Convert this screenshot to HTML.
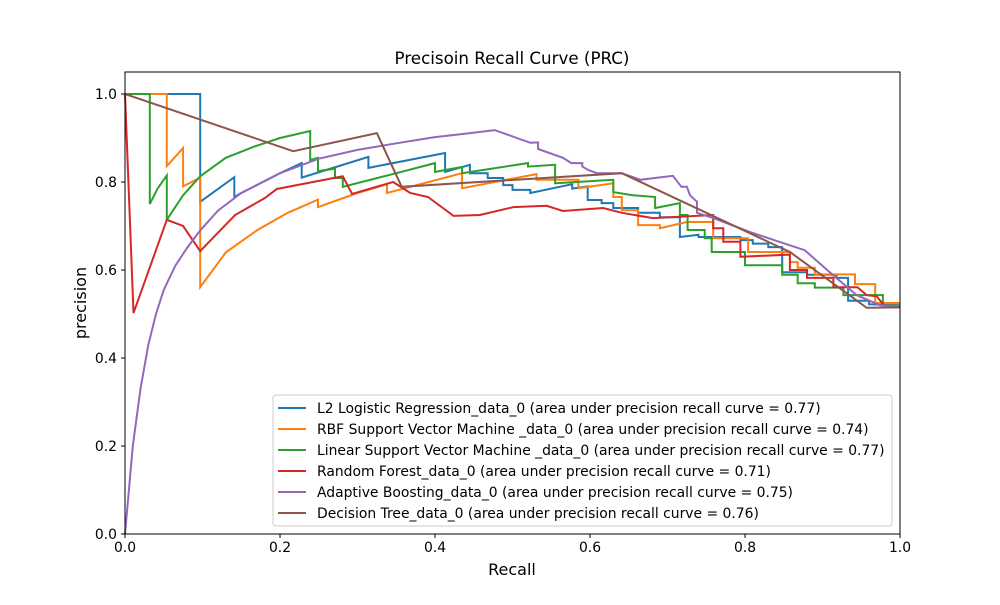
<!DOCTYPE html>
<html><head><meta charset="utf-8"><style>
body{margin:0;background:#fff}
svg text{font-family:"DejaVu Sans","Liberation Sans",sans-serif}
</style></head><body>
<svg id="chart" width="1000" height="600" xmlns="http://www.w3.org/2000/svg">
<rect width="1000" height="600" fill="#fff"/>
<g id="plot"></g>
</svg>
<script>
const xTicks=[0,0.2,0.4,0.6,0.8,1.0];
const yTicks=[0,0.2,0.4,0.6,0.8,1.0];
const seriesNames=["L2 Logistic Regression_data_0 (area under precision recall curve = 0.77)","RBF Support Vector Machine _data_0 (area under precision recall curve = 0.74)","Linear Support Vector Machine _data_0 (area under precision recall curve = 0.77)","Random Forest_data_0 (area under precision recall curve = 0.71)","Adaptive Boosting_data_0 (area under precision recall curve = 0.75)","Decision Tree_data_0 (area under precision recall curve = 0.76)"];
const colors=["#1f77b4","#ff7f0e","#2ca02c","#d62728","#9467bd","#8c564b"];
const purple=[[0,0],[0.005,0.1],[0.01,0.2],[0.02,0.33],[0.03,0.43],[0.04,0.5],[0.05,0.555],[0.065,0.61],[0.08,0.65],[0.097,0.69],[0.12,0.735],[0.15,0.775],[0.2,0.82],[0.25,0.853],[0.3,0.873],[0.35,0.888],[0.4,0.902],[0.44,0.91],[0.477,0.918],[0.523,0.889],[0.533,0.89],[0.533,0.875],[0.565,0.855],[0.576,0.843],[0.59,0.843],[0.59,0.835],[0.598,0.827],[0.609,0.82],[0.641,0.82],[0.665,0.805],[0.707,0.814],[0.718,0.789],[0.725,0.789],[0.729,0.77],[0.738,0.755],[0.738,0.73],[0.759,0.718],[0.81,0.684],[0.877,0.645],[0.913,0.589],[0.944,0.543],[0.974,0.52],[1,0.518]];
const blue=[[0,1],[0.097,1],[0.097,0.755],[0.141,0.811],[0.141,0.766],[0.15,0.775],[0.2,0.82],[0.228,0.843],[0.228,0.81],[0.314,0.857],[0.314,0.832],[0.413,0.866],[0.413,0.823],[0.445,0.839],[0.445,0.82],[0.468,0.82],[0.468,0.809],[0.488,0.809],[0.488,0.793],[0.5,0.793],[0.5,0.782],[0.523,0.782],[0.523,0.775],[0.577,0.795],[0.577,0.785],[0.597,0.79],[0.597,0.759],[0.615,0.759],[0.615,0.752],[0.63,0.752],[0.63,0.741],[0.662,0.741],[0.662,0.73],[0.69,0.73],[0.69,0.72],[0.716,0.72],[0.716,0.675],[0.74,0.68],[0.74,0.675],[0.794,0.675],[0.794,0.668],[0.81,0.668],[0.81,0.66],[0.83,0.66],[0.83,0.652],[0.848,0.652],[0.848,0.595],[0.88,0.595],[0.88,0.589],[0.918,0.589],[0.918,0.582],[0.933,0.582],[0.933,0.53],[0.96,0.53],[0.96,0.522],[1,0.52]];
const orange=[[0,1],[0.054,1],[0.054,0.836],[0.075,0.877],[0.075,0.79],[0.097,0.81],[0.097,0.561],[0.13,0.64],[0.17,0.69],[0.21,0.73],[0.249,0.76],[0.249,0.743],[0.3,0.775],[0.338,0.795],[0.338,0.775],[0.435,0.82],[0.435,0.786],[0.531,0.818],[0.531,0.805],[0.585,0.805],[0.585,0.786],[0.63,0.797],[0.63,0.766],[0.641,0.766],[0.641,0.736],[0.662,0.736],[0.662,0.702],[0.69,0.702],[0.69,0.695],[0.725,0.709],[0.759,0.709],[0.759,0.672],[0.785,0.672],[0.804,0.672],[0.804,0.641],[0.84,0.641],[0.858,0.641],[0.858,0.618],[0.868,0.618],[0.868,0.605],[0.89,0.605],[0.89,0.59],[0.942,0.59],[0.942,0.568],[0.968,0.568],[0.968,0.525],[1,0.525]];
const green=[[0,1],[0.032,1],[0.032,0.75],[0.042,0.785],[0.054,0.815],[0.054,0.714],[0.075,0.77],[0.097,0.813],[0.13,0.855],[0.166,0.88],[0.2,0.9],[0.239,0.916],[0.239,0.85],[0.249,0.855],[0.249,0.825],[0.271,0.83],[0.271,0.809],[0.281,0.809],[0.281,0.789],[0.35,0.82],[0.4,0.843],[0.4,0.823],[0.435,0.834],[0.435,0.82],[0.52,0.843],[0.52,0.835],[0.555,0.839],[0.555,0.797],[0.63,0.805],[0.63,0.777],[0.655,0.77],[0.684,0.766],[0.684,0.741],[0.716,0.752],[0.716,0.725],[0.726,0.725],[0.726,0.691],[0.748,0.691],[0.748,0.672],[0.757,0.672],[0.757,0.641],[0.8,0.641],[0.8,0.611],[0.848,0.611],[0.848,0.589],[0.868,0.589],[0.868,0.57],[0.89,0.57],[0.89,0.56],[0.927,0.56],[0.927,0.543],[0.978,0.543],[0.978,0.52],[1,0.52]];
const red=[[0,1],[0.011,0.502],[0.054,0.714],[0.075,0.7],[0.097,0.643],[0.142,0.725],[0.18,0.763],[0.196,0.784],[0.281,0.813],[0.293,0.773],[0.346,0.8],[0.368,0.775],[0.391,0.766],[0.424,0.723],[0.458,0.725],[0.501,0.743],[0.544,0.746],[0.565,0.734],[0.617,0.741],[0.641,0.73],[0.681,0.718],[0.759,0.725],[0.759,0.695],[0.772,0.695],[0.772,0.664],[0.794,0.664],[0.794,0.63],[0.858,0.635],[0.858,0.6],[0.88,0.6],[0.88,0.582],[0.914,0.582],[0.914,0.561],[0.945,0.561],[0.957,0.543],[0.97,0.54],[0.981,0.516],[1,0.515]];
const brown=[[0,1],[0.217,0.87],[0.325,0.911],[0.357,0.789],[0.641,0.82],[0.858,0.641],[0.957,0.514],[1,0.515]];
const allSeries=[blue,orange,green,red,purple,brown];
const seriesKeys=["l2-logistic","rbf-svm","linear-svm","random-forest","adaboost","decision-tree"];

const X0=125,X1=900,Y0=534,YT=72;
const sx=r=>X0+(X1-X0)*r;
const sy=p=>Y0-(Y0-YT)*p/1.05;
const NS="http://www.w3.org/2000/svg";
const g=document.getElementById('plot');
function mk(t,a,txt){const e=document.createElementNS(NS,t);for(const k in a)e.setAttribute(k,a[k]);if(txt!==undefined)e.textContent=txt;g.appendChild(e);return e;}

allSeries.forEach((s,i)=>{
 const e=mk('polyline',{points:s.map(d=>sx(d[0]).toFixed(1)+','+sy(d[1]).toFixed(1)).join(' '),fill:'none',stroke:colors[i],'stroke-width':2,'stroke-linejoin':'miter'});
 
 
});
const frame=mk('rect',{x:X0,y:YT,width:X1-X0,height:Y0-YT,fill:'none',stroke:'#000','stroke-width':1});


xTicks.forEach(v=>{
 const t=mk('line',{x1:sx(v),x2:sx(v),y1:Y0,y2:Y0+4,stroke:'#000'});
 
 
 const l=mk('text',{x:sx(v),y:Y0+18,'text-anchor':'middle','font-size':13.9},v.toFixed(1));
 
 
});
yTicks.forEach(v=>{
 const t=mk('line',{x1:X0-4,x2:X0,y1:sy(v),y2:sy(v),stroke:'#000'});
 
 
 const l=mk('text',{x:X0-8,y:sy(v)+5,'text-anchor':'end','font-size':13.9},v.toFixed(1));
 
 
});
const title=mk('text',{x:512,y:64,'text-anchor':'middle','font-size':16.7},'Precisoin Recall Curve (PRC)');


const xl=mk('text',{x:512,y:575,'text-anchor':'middle','font-size':16},'Recall');


const yl=mk('text',{x:86,y:303,'text-anchor':'middle','font-size':16,transform:'rotate(-90 86 303)'},'precision');


const lb=mk('rect',{x:273,y:395,width:619,height:131,rx:3,fill:'#fff','fill-opacity':0.8,stroke:'#ccc'});


seriesNames.forEach((n,i)=>{
 const y=408+i*21;
 const ln=mk('line',{x1:278,x2:306,y1:y,y2:y,stroke:colors[i],'stroke-width':2});
 
 
 const t=mk('text',{x:317,y:y+5,'font-size':13.9},n);
 
 
});
</script>
</body></html>
